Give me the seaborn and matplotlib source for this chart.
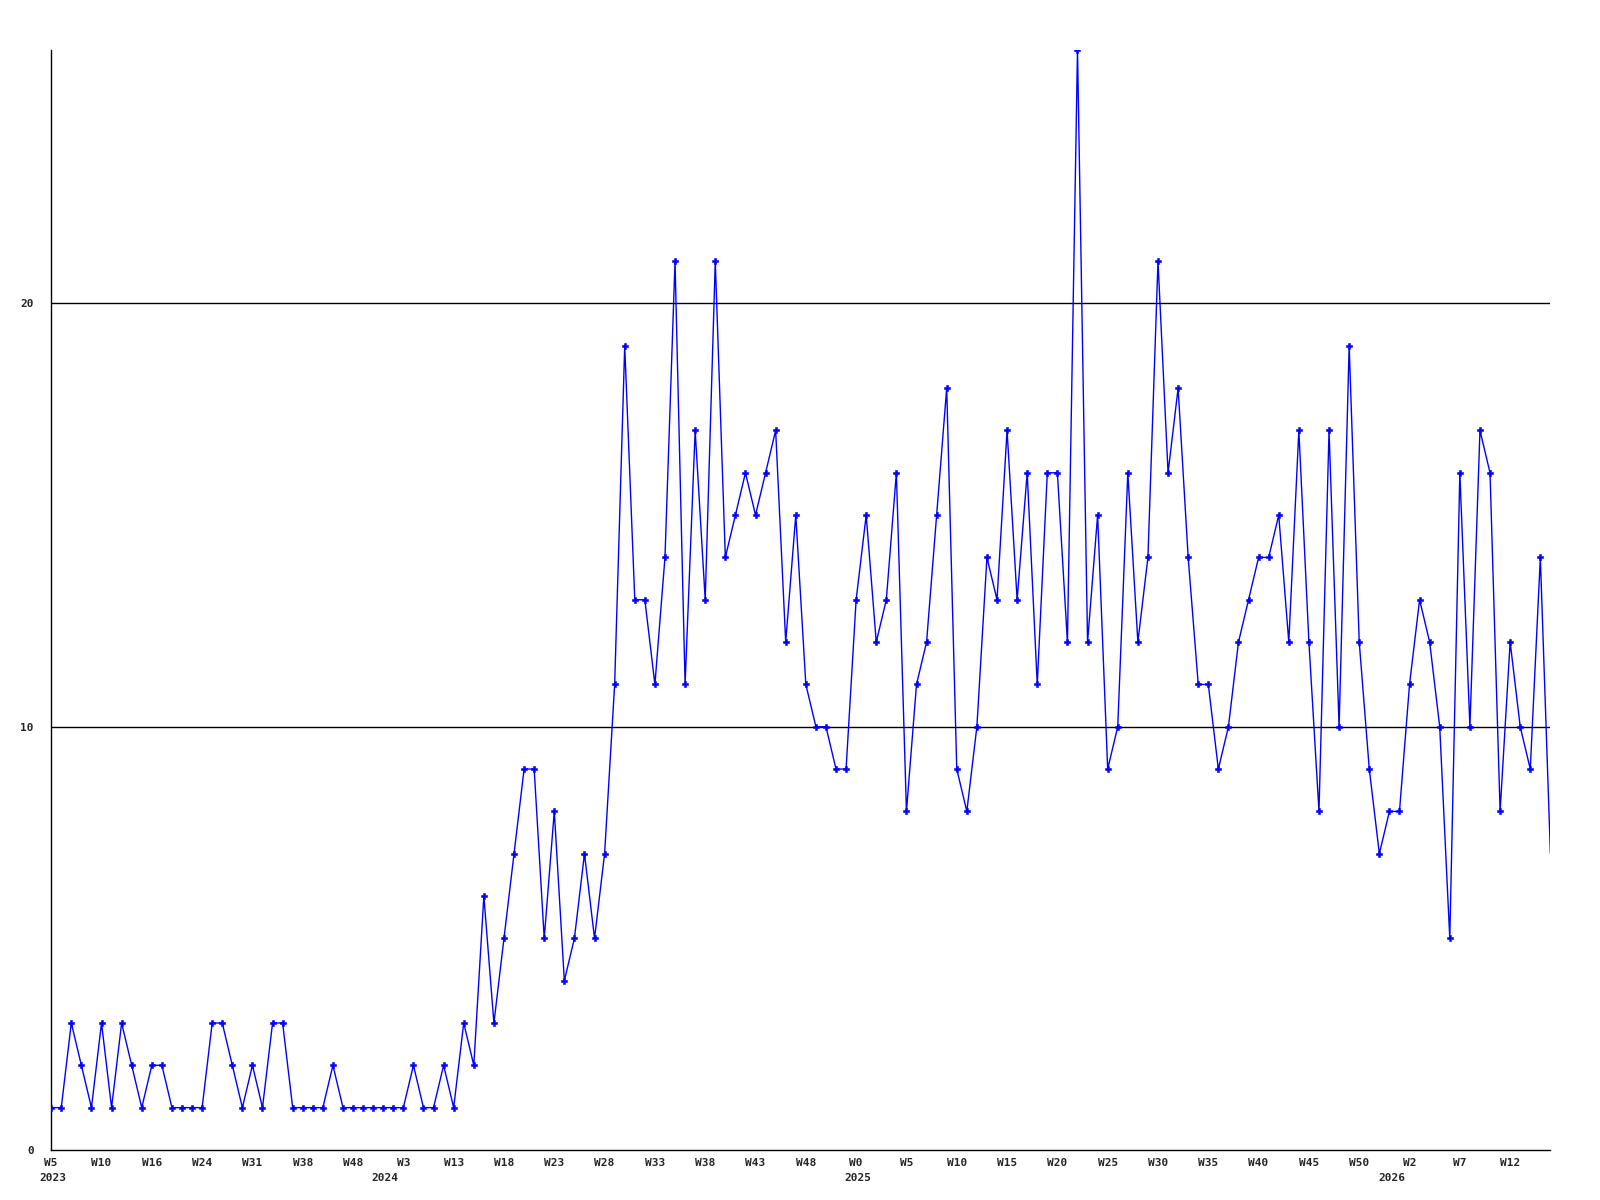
import numpy as np
import pandas as pd
import matplotlib
matplotlib.use('Agg')
import matplotlib.pyplot as plt
import matplotlib.transforms as mtransforms
import seaborn as sns

# weekly counts, one per plotted week
counts = [1, 1, 3, 2, 1, 3, 1, 3, 2, 1,
          2, 2, 1, 1, 1, 1, 3, 3, 2, 1,
          2, 1, 3, 3, 1, 1, 1, 1, 2, 1,
          1, 1, 1, 1, 1, 1, 2, 1, 1, 2,
          1, 3, 2, 6, 3, 5, 7, 9, 9, 5,
          8, 4, 5, 7, 5, 7, 11, 19, 13, 13,
          11, 14, 21, 11, 17, 13, 21, 14, 15, 16,
          15, 16, 17, 12, 15, 11, 10, 10, 9, 9,
          13, 15, 12, 13, 16, 8, 11, 12, 15, 18,
          9, 8, 10, 14, 13, 17, 13, 16, 11, 16,
          16, 12, 26, 12, 15, 9, 10, 16, 12, 14,
          21, 16, 18, 14, 11, 11, 9, 10, 12, 13,
          14, 14, 15, 12, 17, 12, 8, 17, 10, 19,
          12, 9, 7, 8, 8, 11, 13, 12, 10, 5,
          16, 10, 17, 16, 8, 12, 10, 9, 14, 7]

week_labels = ["W5", "W10", "W16", "W24", "W31", "W38", "W48", "W3", "W13", "W18",
               "W23", "W28", "W33", "W38", "W43", "W48", "W0", "W5", "W10", "W15",
               "W20", "W25", "W30", "W35", "W40", "W45", "W50", "W2", "W7", "W12"]
years = ["2023", "2024", "2025", "2026"]
year_pos = [0, 33, 80, 133]

df = pd.DataFrame({'week': np.arange(len(counts)), 'count': counts})

sns.set_style('white')
plt.rcParams['font.family'] = ['DejaVu Sans Mono', 'DejaVu Sans']

fig = plt.figure(figsize=(16, 12), dpi=100)
ax = fig.add_axes([0.032, 0.0417, 0.937, 0.917])

ax.axhline(10, color='black', linewidth=1, zorder=1)
ax.axhline(20, color='black', linewidth=1, zorder=1)

sns.lineplot(data=df, x='week', y='count', ax=ax, color='#0000ff', linewidth=1,
             marker='P', markersize=4.5, markeredgewidth=0.4, markeredgecolor='#0000ff',
             markevery=list(range(len(counts) - 1)), zorder=3)

ax.set_xlim(0, len(counts) - 1)
ax.set_ylim(0, 26)
ax.set_xticks(np.arange(0, len(counts), 5))
ax.set_xticklabels(week_labels, fontsize=8, fontweight='bold')
ax.set_yticks([0, 10, 20])
ax.set_yticklabels(['0', '10', '20'], fontsize=8, fontweight='bold')
ax.tick_params(axis='both', length=0)
ax.tick_params(axis='x', pad=6)
ax.tick_params(axis='y', pad=12.5)
ax.set_xlabel('')
ax.set_ylabel('')

for s in ['top', 'right']:
    ax.spines[s].set_visible(False)
for s in ['left', 'bottom']:
    ax.spines[s].set_color('black')
    ax.spines[s].set_linewidth(1)

trans = mtransforms.blended_transform_factory(ax.transData, ax.transAxes)
for yr, pos in zip(years, year_pos):
    ax.text(pos + 0.2, -0.021, yr, transform=trans, ha='center', va='top',
            fontsize=8, fontweight='bold')

fig.savefig('out.png', dpi=100)
plt.close()
